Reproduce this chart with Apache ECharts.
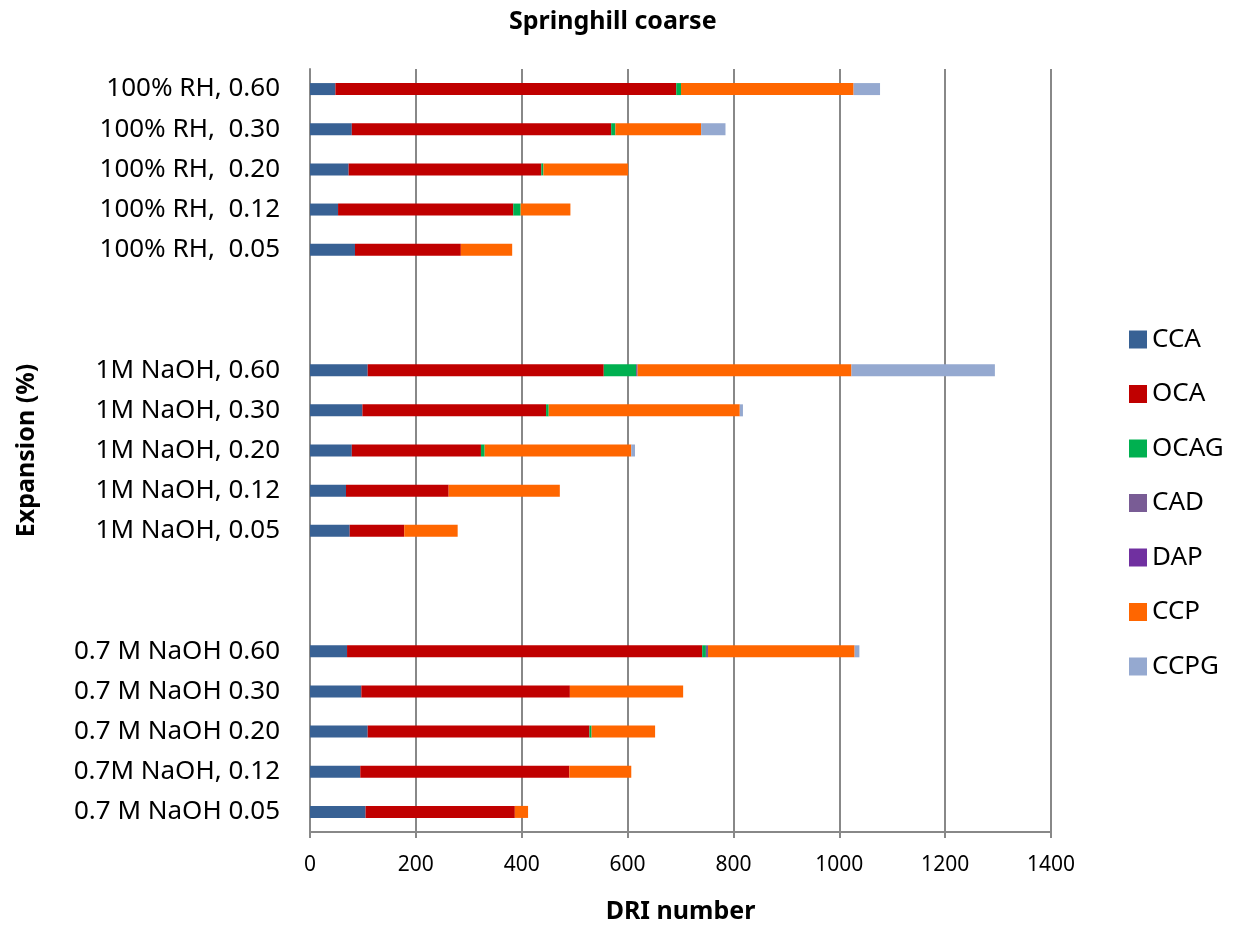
<!DOCTYPE html>
<html><head><meta charset="utf-8">
<script src="https://cdn.jsdelivr.net/npm/echarts@6/dist/echarts.min.js"></script>
<style>html,body{margin:0;padding:0;background:#fff}#c{width:1243px;height:927px}</style>
</head><body><div id="c"></div>
<script>
const categories = ['100% RH, 0.60','100% RH,  0.30','100% RH,  0.20','100% RH,  0.12','100% RH,  0.05','','',
  '1M NaOH, 0.60','1M NaOH, 0.30','1M NaOH, 0.20','1M NaOH, 0.12','1M NaOH, 0.05','','',
  '0.7 M NaOH 0.60','0.7 M NaOH 0.30','0.7 M NaOH 0.20','0.7M NaOH, 0.12','0.7 M NaOH 0.05'];
const seriesNames = ['CCA','OCA','OCAG','CAD','DAP','CCP','CCPG'];
const CCA  = [48,79,73,53,85,null,null,109,99,79,68,75,null,null,70,97,109,95,105];
const OCA  = [644,490,364,331,200,null,null,446,347,244,194,103,null,null,671,394,419,395,282];
const OCAG = [9,8,4,14,0,null,null,61,5,7,0,0,null,null,7,0,4,0,0];
const CAD  = [0,0,0,0,0,null,null,3,0,0,0,0,null,null,4,0,0,0,0];
const DAP  = [0,0,0,0,0,null,null,0,0,0,0,0,null,null,0,0,0,0,0];
const CCP  = [326,162,160,94,97,null,null,404,361,277,210,101,null,null,277,214,120,117,25];
const CCPG = [50,46,0,0,0,null,null,271,6,7,0,0,null,null,9,0,0,0,0];
const xTicks = [0,200,400,600,800,1000,1200,1400];
const colors = ['#386194','#C00000','#00B050','#795C95','#7030A0','#FF6600','#95A9D0'];
const values = [CCA,OCA,OCAG,CAD,DAP,CCP,CCPG];
const FONT = 'Noto Sans';
const chart = echarts.init(document.getElementById('c'), null, {renderer:'canvas'});
chart.setOption({
  animation:false,
  title:{text:'Springhill coarse',left:504,top:4,textStyle:{fontFamily:FONT,fontSize:25,fontWeight:'bold',color:'#000'}},
  legend:{orient:'vertical',left:1124,top:319.5,itemGap:24.5,itemWidth:18,itemHeight:18,icon:'rect',
    textStyle:{fontFamily:FONT,fontSize:26,lineHeight:30,color:'#000',padding:[0,0,0,0]},data:seriesNames},
  grid:{left:310,right:192,top:69,bottom:95,containLabel:false,outerBoundsMode:'none'},
  xAxis:{type:'value',min:xTicks[0],max:xTicks[xTicks.length-1],interval:200,
    name:'DRI number',nameLocation:'middle',nameGap:67,
    nameTextStyle:{fontFamily:FONT,fontSize:25,fontWeight:'bold',color:'#000'},
    axisLine:{show:true,lineStyle:{color:'#888',width:2}},
    axisTick:{show:true,length:6,lineStyle:{color:'#888',width:2}},
    axisLabel:{fontFamily:FONT,fontSize:21,color:'#000',margin:23,formatter:v=>String(v)},
    splitLine:{show:true,lineStyle:{color:'#888',width:2}}},
  yAxis:{type:'category',inverse:true,data:categories,
    name:'Expansion (%)',nameLocation:'middle',nameGap:271,nameRotate:90,
    nameTextStyle:{fontFamily:FONT,fontSize:25,fontWeight:'bold',color:'#000'},
    axisLine:{show:true,lineStyle:{color:'#888',width:2}},
    axisTick:{show:false},
    axisLabel:{fontFamily:FONT,fontSize:26,color:'#000',margin:30}},
  series: seriesNames.map((n,i)=>({name:n,type:'bar',stack:'total',barWidth:12,
    itemStyle:{color:colors[i]},data:values[i]}))
});
</script></body></html>
